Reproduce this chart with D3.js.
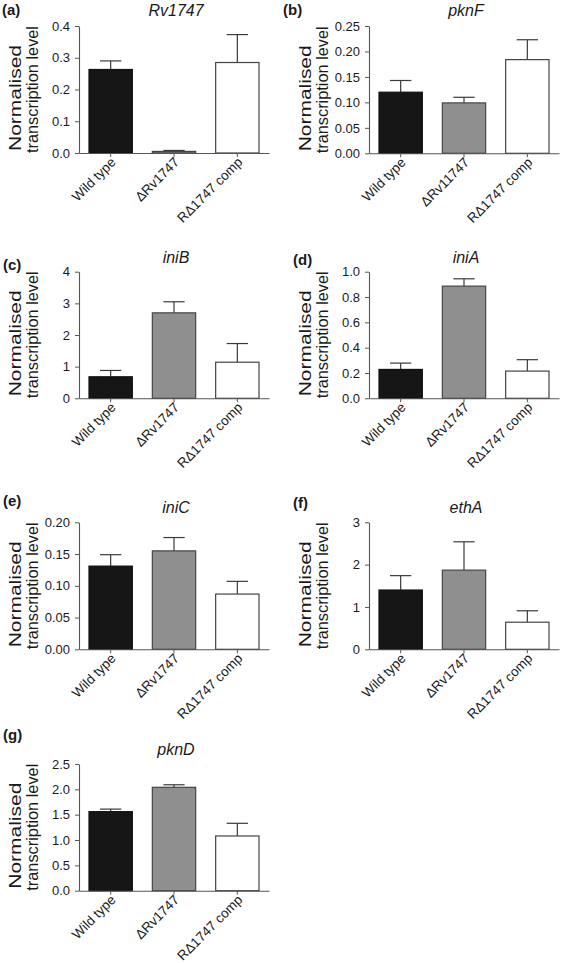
<!DOCTYPE html>
<html>
<head>
<meta charset="utf-8">
<script src="https://cdn.jsdelivr.net/npm/d3@7"></script>
<style>
  html, body { margin: 0; padding: 0; background: #fff; }
  svg { display: block; }
  text { font-family: "Liberation Sans", Arial, Helvetica, sans-serif; fill: #1a1a1a; }
</style>
</head>
<body>
<svg id="chart" width="563" height="963"></svg>
<script>
// ---- data ----
const categories  = ["Wild type", "ΔRv1747", "RΔ1747 comp"];
const categoriesB = ["Wild type", "ΔRv11747", "RΔ1747 comp"];
const panelLabels = ["(a)", "(b)", "(c)", "(d)", "(e)", "(f)", "(g)"];
const genes = ["Rv1747", "pknF", "iniB", "iniA", "iniC", "ethA", "pknD"];

const meansA = [0.263, 0.005, 0.285];  const errA = [0.027, 0.003, 0.088];
const meansB = [0.120, 0.099, 0.184];  const errB = [0.023, 0.011, 0.039];
const meansC = [0.68, 2.70, 1.14];     const errC = [0.20, 0.35, 0.59];
const meansD = [0.228, 0.886, 0.215];  const errD = [0.050, 0.058, 0.090];
const meansE = [0.131, 0.155, 0.087];  const errE = [0.018, 0.021, 0.020];
const meansF = [1.40, 1.87, 0.64];     const errF = [0.34, 0.67, 0.27];
const meansG = [1.56, 2.04, 1.08];     const errG = [0.05, 0.05, 0.25];

const ticksA = [0, 0.1, 0.2, 0.3, 0.4];
const ticksB = [0, 0.05, 0.10, 0.15, 0.20, 0.25];
const ticksC = [0, 1, 2, 3, 4];
const ticksD = [0, 0.2, 0.4, 0.6, 0.8, 1.0];
const ticksE = [0, 0.05, 0.10, 0.15, 0.20];
const ticksF = [0, 1, 2, 3];
const ticksG = [0, 0.5, 1.0, 1.5, 2.0, 2.5];

const tickFormats = [".1f", ".2f", "d", ".1f", ".2f", "d", ".1f"];
const barColors = ["#161616", "#8f8f8f", "#ffffff"];
const yLabelLines = ["Normalised", "transcription level"];

// ---- layout ----
const panels = [
  {cats: categories,  means: meansA, errs: errA, ticks: ticksA, x: 79,  top: 26,    bottom: 153,   lab: [2, 15],   title: 16},
  {cats: categoriesB, means: meansB, errs: errB, ticks: ticksB, x: 369, top: 26,    bottom: 153.3, lab: [283, 15], title: 16},
  {cats: categories,  means: meansC, errs: errC, ticks: ticksC, x: 79,  top: 271.7, bottom: 398.3, lab: [3, 270],  title: 263},
  {cats: categories,  means: meansD, errs: errD, ticks: ticksD, x: 369, top: 271.7, bottom: 398.3, lab: [293, 265],title: 263},
  {cats: categories,  means: meansE, errs: errE, ticks: ticksE, x: 79,  top: 522.3, bottom: 649.3, lab: [3, 506],  title: 513},
  {cats: categories,  means: meansF, errs: errF, ticks: ticksF, x: 369, top: 522.3, bottom: 649.3, lab: [293, 508],title: 513},
  {cats: categories,  means: meansG, errs: errG, ticks: ticksG, x: 79,  top: 764,   bottom: 890.7, lab: [3, 740],  title: 755}
];
const plotW = 190;
const axisColor = "#555";
const svg = d3.select("#chart");

panels.forEach((p, i) => {
  const g = svg.append("g");
  const maxT = p.ticks[p.ticks.length - 1];
  const y = d3.scaleLinear().domain([0, maxT]).range([p.bottom, p.top]);
  const x = d3.scaleBand().domain(p.cats).range([p.x, p.x + plotW])
              .paddingInner(0.3).paddingOuter(0.15);
  const fmt = d3.format(tickFormats[i]);

  const data = p.cats.map((c, k) => ({c, m: p.means[k], e: p.errs[k], k}));
  // error bars (upward only)
  const eb = g.append("g").attr("stroke", "#3a3a3a").attr("stroke-width", 1.2);
  data.forEach(d => {
    const cx = x(d.c) + x.bandwidth() / 2;
    const capW = x.bandwidth() * 0.24;
    eb.append("line").attr("x1", cx).attr("x2", cx).attr("y1", y(d.m)).attr("y2", y(d.m + d.e));
    eb.append("line").attr("x1", cx - capW).attr("x2", cx + capW).attr("y1", y(d.m + d.e)).attr("y2", y(d.m + d.e));
  });
  g.append("g").selectAll("rect").data(data).join("rect")
    .attr("x", d => x(d.c) + 0.5)
    .attr("width", x.bandwidth() - 1)
    .attr("y", d => y(d.m))
    .attr("height", d => Math.max(0.6, y(0) - y(d.m)))
    .attr("fill", d => barColors[d.k])
    .attr("stroke", d => d.k === 0 ? "#111" : "#444")
    .attr("stroke-width", 1.2);

  // y axis
  const ya = g.append("g").attr("transform", `translate(${p.x},0)`)
    .call(d3.axisLeft(y).tickValues(p.ticks).tickFormat(fmt).tickSize(4).tickPadding(5).tickSizeOuter(0));
  ya.select(".domain").attr("stroke", axisColor).attr("stroke-width", 1.1);
  ya.selectAll(".tick line").attr("stroke", axisColor);
  ya.selectAll(".tick text").attr("font-size", 13).attr("fill", "#222")
    .style("font-family", '"Liberation Sans", Arial, sans-serif');

  // x axis
  const xa = g.append("g").attr("transform", `translate(0,${p.bottom})`)
    .call(d3.axisBottom(x).tickSize(4).tickSizeOuter(0).tickFormat(""));
  xa.select(".domain").attr("stroke", axisColor).attr("stroke-width", 1.1);
  xa.selectAll(".tick line").attr("stroke", axisColor);
  p.cats.forEach(c => {
    const cx = x(c) + x.bandwidth() / 2;
    g.append("text")
      .attr("transform", `translate(${cx + 6},${p.bottom + 10}) rotate(-45)`)
      .attr("text-anchor", "end")
      .attr("font-size", 13.5)
      .attr("fill", "#222")
      .text(c);
  });

  // y label (two lines)
  g.append("text")
    .attr("transform", `translate(${p.x - 58},${p.bottom - 2}) rotate(-90)`)
    .attr("text-anchor", "start").attr("font-size", 17)
    .attr("textLength", 106).attr("lengthAdjust", "spacingAndGlyphs")
    .text(yLabelLines[0]);
  g.append("text")
    .attr("transform", `translate(${p.x - 41},${p.bottom}) rotate(-90)`)
    .attr("text-anchor", "start").attr("font-size", 16.5)
    .attr("textLength", 127).attr("lengthAdjust", "spacingAndGlyphs")
    .text(yLabelLines[1]);

  // title
  const midX = x(p.cats[1]) + x.bandwidth() / 2 + 2;
  g.append("text").attr("x", midX).attr("y", p.title)
    .attr("text-anchor", "middle").attr("font-size", 16).attr("font-style", "italic")
    .text(genes[i]);

  // panel label
  g.append("text").attr("x", p.lab[0]).attr("y", p.lab[1])
    .attr("font-size", 15).attr("font-weight", "bold")
    .text(panelLabels[i]);
});
</script>
</body>
</html>
